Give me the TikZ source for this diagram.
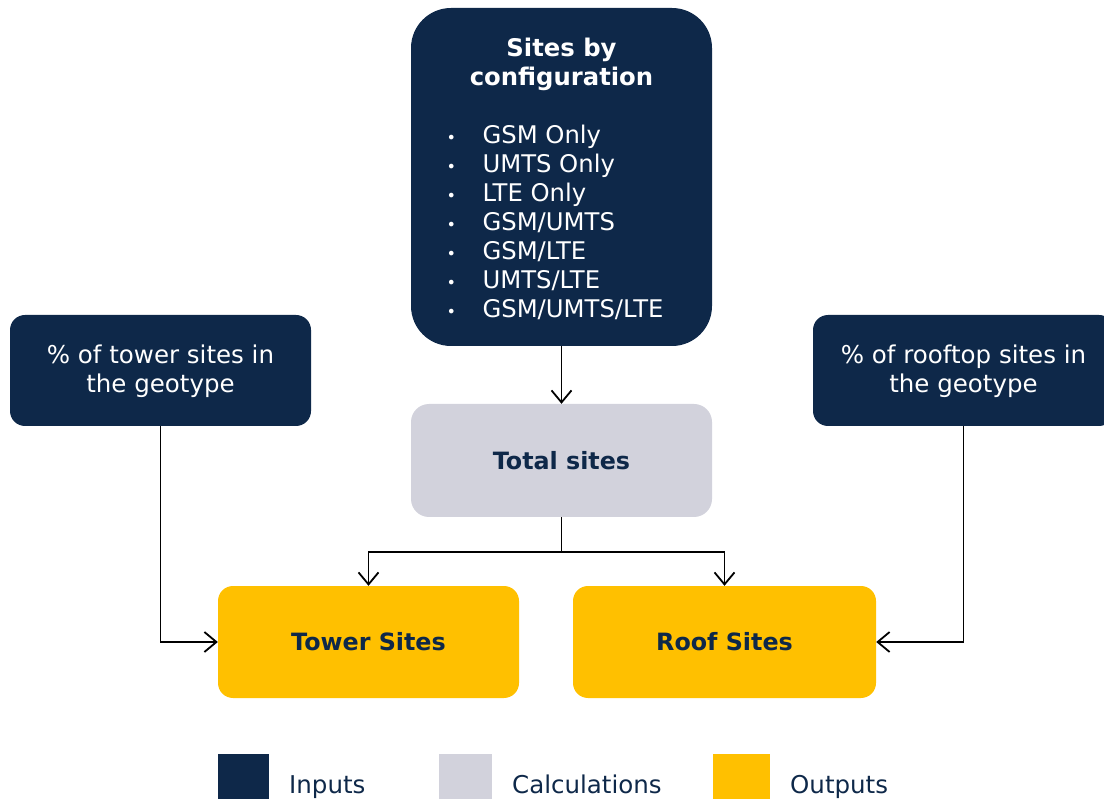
\documentclass[tikz,border=0pt]{standalone}
\usepackage{fontspec}
\setmainfont{DejaVu Sans}
\usetikzlibrary{arrows.meta,positioning}
\definecolor{navy}{HTML}{0E2849}
\definecolor{calcgray}{HTML}{D2D2DC}
\definecolor{outyel}{HTML}{FFC000}
\newcommand{\itm}[1]{\makebox[230pt][l]{\makebox[36pt][l]{\fontsize{16}{16}\selectfont\textbullet}#1}}

\begin{document}
\begin{tikzpicture}[x=1pt, y=-1pt, lnk/.style={line width=1.8pt, -{Straight Barb[length=12pt,width=20pt,line width=1.8pt]}}]
\tikzstyle{inp}=[rectangle, fill=navy, text=white, rounded corners=15pt, minimum width=301pt, minimum height=111pt, align=center, font=\fontsize{24.5}{28.5}\selectfont]
\tikzstyle{calc}=[rectangle, fill=calcgray, text=navy, rounded corners=18pt, minimum width=301pt, minimum height=113pt, font=\fontsize{23.8}{28.5}\selectfont\bfseries]
\tikzstyle{outp}=[calc, fill=outyel, rounded corners=15pt, minimum height=112pt]
\tikzstyle{key}=[rectangle, minimum height=52pt, inner sep=0pt, anchor=north west]
\tikzstyle{keytxt}=[text=navy, anchor=base west, inner sep=0pt, font=\fontsize{24.5}{28}\selectfont]
\useasboundingbox (0,0) rectangle (1104,799);
\node[inp, rounded corners=40pt, minimum height=338pt, font=\fontsize{24.3}{29}\selectfont] (C) at (561.5,177) {\rule{0pt}{22pt}\textbf{Sites by}\\\textbf{configuration}\\[29pt]
  \itm{GSM Only}\\\itm{UMTS Only}\\\itm{LTE Only}\\\itm{GSM/UMTS}\\\itm{GSM/LTE}\\\itm{UMTS/LTE}\\\itm{GSM/UMTS/LTE}};
\node[inp] (PT) at (160.5,370.5) {\rule{0pt}{20pt}\% of tower sites in\\the geotype};
\node[inp] (PR) at (963.5,370.5) {\rule{0pt}{20pt}\% of rooftop sites in\\the geotype};
\node[calc] (T) at (561.5,460.5) {Total sites};
\node[outp] (TW) at (368.5,642) {Tower Sites};
\node[outp, minimum width=303pt] (RF) at (724.5,642) {Roof Sites};
\coordinate (J) at (561.5,552);
\draw[lnk] (C) -- (T);
\draw[line width=1.8pt] (T.south) -- (J);
\draw[lnk] (J) -| (TW.north);
\draw[lnk] (J) -| (RF.north);
\draw[lnk] (PT.south) |- (TW.west);
\draw[lnk] (PR.south) |- (RF.east);
% legend
\foreach \n/\c/\x/\w/\t in {KI/navy/218/51/Inputs, KC/calcgray/439/53/Calculations, KO/outyel/713/57/Outputs}{
  \node[key, fill=\c, minimum width=\w pt] (\n) at (\x,754) {};
  \node[keytxt] (\n L) at ({\x+\w+20},793) {\t};
}
\end{tikzpicture}
\end{document}
